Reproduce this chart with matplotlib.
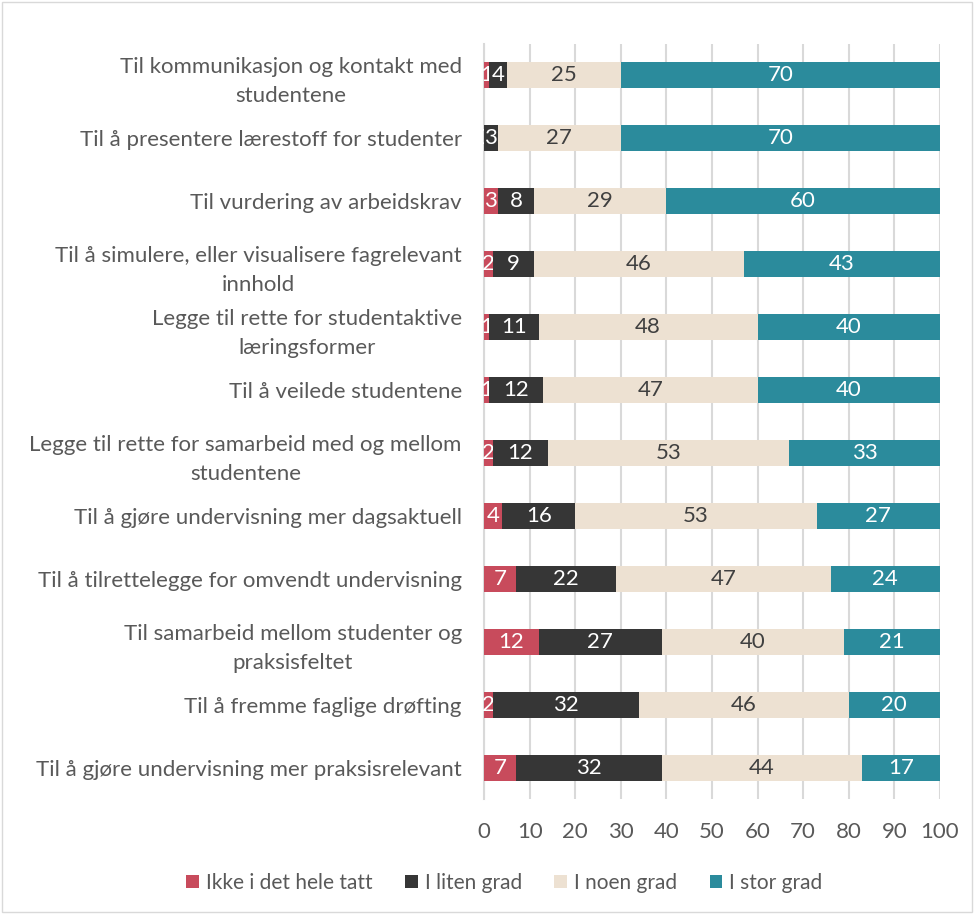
import matplotlib.pyplot as plt
from matplotlib.patches import Rectangle
import numpy as np

plt.rcParams['font.family'] = ['Lato', 'DejaVu Sans']

categories = [
    "Til kommunikasjon og kontakt med\nstudentene",
    "Til å presentere lærestoff for studenter",
    "Til vurdering av arbeidskrav",
    "Til å simulere, eller visualisere fagrelevant\ninnhold",
    "Legge til rette for studentaktive\nlæringsformer",
    "Til å veilede studentene",
    "Legge til rette for samarbeid med og mellom\nstudentene",
    "Til å gjøre undervisning mer dagsaktuell",
    "Til å tilrettelegge for omvendt undervisning",
    "Til samarbeid mellom studenter og\npraksisfeltet",
    "Til å fremme faglige drøfting",
    "Til å gjøre undervisning mer praksisrelevant",
]

ikke = [1, 0, 3, 2, 1, 1, 2, 4, 7, 12, 2, 7]
liten = [4, 3, 8, 9, 11, 12, 12, 16, 22, 27, 32, 32]
noen = [25, 27, 29, 46, 48, 47, 53, 53, 47, 40, 46, 44]
stor = [70, 70, 60, 43, 40, 40, 33, 27, 24, 21, 20, 17]

series = [
    ("Ikke i det hele tatt", ikke, "#c84b5c", "white"),
    ("I liten grad", liten, "#363636", "white"),
    ("I noen grad", noen, "#ede1d2", "#404040"),
    ("I stor grad", stor, "#2b8b9c", "white"),
]

fig = plt.figure(figsize=(9.74, 9.14), dpi=100)
ax = fig.add_axes([0.497, 0.1253, 0.468, 0.8271])

y = np.arange(len(categories))
left = np.zeros(len(categories))
for name, vals, color, tcolor in series:
    vals = np.array(vals, dtype=float)
    bars = ax.barh(y, vals, left=left, height=0.41, color=color, label=name, zorder=3)
    ax.bar_label(bars, labels=[str(int(v)) for v in vals], label_type='center',
                 color=tcolor, fontsize=16)
    left += vals

ax.set_xlim(0, 100)
ax.set_ylim(len(categories) - 0.5, -0.5)
ax.set_xticks(np.arange(0, 101, 10))
ax.set_yticks(y)
ax.set_yticklabels(categories, multialignment='center', linespacing=1.55)
ax.tick_params(axis='both', length=0, labelsize=16, colors='#595959')
ax.tick_params(axis='y', pad=16)
ax.tick_params(axis='x', pad=16)
ax.grid(axis='x', color='#d9d9d9', linewidth=1.5, zorder=0)
for s in ['top', 'right', 'bottom']:
    ax.spines[s].set_visible(False)
ax.spines['left'].set_color('#d9d9d9')
ax.spines['left'].set_linewidth(1.5)

fig.legend(loc='center', bbox_to_anchor=(0.518, 0.034), ncol=4, frameon=False,
           fontsize=15, labelcolor='#595959', handlelength=0.6, handleheight=0.6,
           handletextpad=0.35, columnspacing=1.55)

fig.patches.append(Rectangle((0.002, 0.002), 0.996, 0.996, transform=fig.transFigure,
                             fill=False, edgecolor='#d9d9d9', linewidth=1))

fig.savefig("out.png", dpi=100)
